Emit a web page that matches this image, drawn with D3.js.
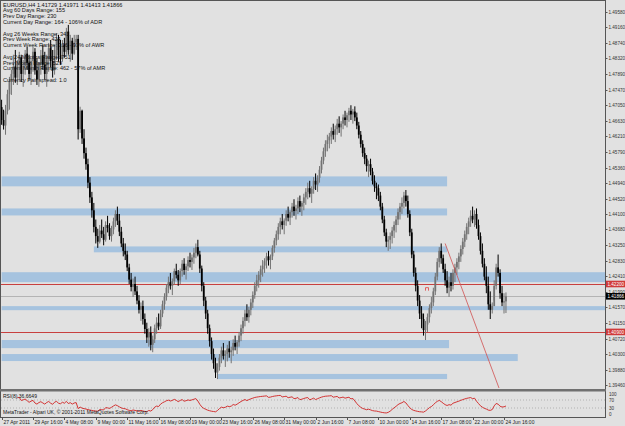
<!DOCTYPE html>
<html>
<head>
<meta charset="utf-8">
<script src="https://cdn.jsdelivr.net/npm/d3@7"></script>
<style>
  body { margin: 0; background: #e1e1e1; }
  svg { display: block; font-family: 'Liberation Sans', Arial, sans-serif; }
</style>
</head>
<body>
<div class="canvas"></div>
<script>
// 4H bars, open = previous close
const highs = [
  1.4720, 1.4693, 1.4706, 1.4747, 1.4782, 1.4801, 1.4842, 1.4855, 1.4828, 1.4850,
  1.4842, 1.4828, 1.4855, 1.4863, 1.4842, 1.4833, 1.4863, 1.4860, 1.4833, 1.4822,
  1.4855, 1.4869, 1.4850, 1.4842, 1.4874, 1.4882, 1.4855, 1.4869, 1.4901, 1.4896,
  1.4882, 1.4882, 1.4888, 1.4915, 1.4923, 1.4896, 1.4888, 1.4896, 1.4896, 1.4896,
  1.4701, 1.4693, 1.4640, 1.4590, 1.4560, 1.4510, 1.4470, 1.4440, 1.4395, 1.4370,
  1.4380, 1.4395, 1.4375, 1.4390, 1.4405, 1.4385, 1.4378, 1.4400, 1.4420, 1.4430,
  1.4410, 1.4375, 1.4345, 1.4330, 1.4310, 1.4275, 1.4250, 1.4235, 1.4240, 1.4215,
  1.4190, 1.4170, 1.4175, 1.4140, 1.4115, 1.4100, 1.4105, 1.4080, 1.4110, 1.4130,
  1.4140, 1.4150, 1.4175, 1.4195, 1.4220, 1.4240, 1.4250, 1.4235, 1.4262, 1.4275,
  1.4258, 1.4262, 1.4285, 1.4290, 1.4275, 1.4295, 1.4305, 1.4300, 1.4318, 1.4330,
  1.4340, 1.4310, 1.4270, 1.4225, 1.4185, 1.4150, 1.4110, 1.4075, 1.4045, 1.4020,
  1.4005, 1.4030, 1.4050, 1.4060, 1.4040, 1.4055, 1.4065, 1.4050, 1.4070, 1.4080,
  1.4068, 1.4090, 1.4110, 1.4130, 1.4150, 1.4165, 1.4158, 1.4180, 1.4200, 1.4225,
  1.4245, 1.4255, 1.4270, 1.4285, 1.4290, 1.4305, 1.4310, 1.4300, 1.4325, 1.4345,
  1.4365, 1.4385, 1.4400, 1.4410, 1.4398, 1.4420, 1.4430, 1.4420, 1.4440, 1.4450,
  1.4435, 1.4455, 1.4460, 1.4445, 1.4465, 1.4480, 1.4495, 1.4500, 1.4485, 1.4510,
  1.4520, 1.4515, 1.4540, 1.4565, 1.4590, 1.4610, 1.4625, 1.4630, 1.4645, 1.4655,
  1.4650, 1.4668, 1.4675, 1.4662, 1.4680, 1.4690, 1.4685, 1.4698, 1.4705, 1.4695,
  1.4702, 1.4685, 1.4660, 1.4635, 1.4610, 1.4590, 1.4570, 1.4555, 1.4560, 1.4535,
  1.4515, 1.4495, 1.4490, 1.4470, 1.4440, 1.4405, 1.4370, 1.4350, 1.4360, 1.4375,
  1.4390, 1.4405, 1.4425, 1.4440, 1.4455, 1.4470, 1.4475, 1.4460, 1.4420, 1.4370,
  1.4310, 1.4265, 1.4230, 1.4190, 1.4160, 1.4140, 1.4120, 1.4140, 1.4165, 1.4185,
  1.4210, 1.4250, 1.4290, 1.4320, 1.4330, 1.4300, 1.4275, 1.4255, 1.4240, 1.4250,
  1.4260, 1.4275, 1.4290, 1.4305, 1.4325, 1.4345, 1.4365, 1.4385, 1.4400, 1.4420,
  1.4430, 1.4420, 1.4425, 1.4395, 1.4360, 1.4330, 1.4290, 1.4268, 1.4240, 1.4200,
  1.4170, 1.4230, 1.4275, 1.4300, 1.4260, 1.4215, 1.4195, 1.41971
];
const lows = [
  1.4652, 1.4639, 1.4625, 1.4680, 1.4693, 1.4733, 1.4760, 1.4766, 1.4760, 1.4774,
  1.4768, 1.4755, 1.4788, 1.4801, 1.4774, 1.4760, 1.4796, 1.4788, 1.4760, 1.4755,
  1.4788, 1.4801, 1.4774, 1.4755, 1.4796, 1.4807, 1.4780, 1.4788, 1.4828, 1.4823,
  1.4815, 1.4823, 1.4834, 1.4842, 1.4842, 1.4823, 1.4828, 1.4842, 1.4855, 1.4612,
  1.4630, 1.4600, 1.4560, 1.4530, 1.4480, 1.4440, 1.4400, 1.4360, 1.4330, 1.4318,
  1.4330, 1.4345, 1.4325, 1.4335, 1.4360, 1.4340, 1.4335, 1.4355, 1.4375, 1.4380,
  1.4350, 1.4320, 1.4295, 1.4285, 1.4255, 1.4220, 1.4200, 1.4185, 1.4190, 1.4165,
  1.4140, 1.4120, 1.4110, 1.4085, 1.4060, 1.4050, 1.4040, 1.4035, 1.4060, 1.4085,
  1.4095, 1.4098, 1.4130, 1.4150, 1.4175, 1.4195, 1.4205, 1.4190, 1.4218, 1.4235,
  1.4215, 1.4220, 1.4240, 1.4245, 1.4232, 1.4255, 1.4265, 1.4258, 1.4275, 1.4290,
  1.4295, 1.4250, 1.4200, 1.4160, 1.4125, 1.4085, 1.4050, 1.4015, 1.3990, 1.3965,
  1.3962, 1.3985, 1.4005, 1.4015, 1.3995, 1.4010, 1.4020, 1.4005, 1.4025, 1.4040,
  1.4030, 1.4050, 1.4065, 1.4085, 1.4105, 1.4120, 1.4115, 1.4135, 1.4155, 1.4180,
  1.4200, 1.4210, 1.4225, 1.4240, 1.4250, 1.4262, 1.4270, 1.4260, 1.4285, 1.4305,
  1.4325, 1.4340, 1.4355, 1.4368, 1.4355, 1.4378, 1.4390, 1.4380, 1.4400, 1.4405,
  1.4395, 1.4410, 1.4415, 1.4405, 1.4420, 1.4435, 1.4450, 1.4455, 1.4440, 1.4465,
  1.4475, 1.4470, 1.4495, 1.4520, 1.4545, 1.4565, 1.4580, 1.4588, 1.4600, 1.4612,
  1.4605, 1.4625, 1.4630, 1.4620, 1.4640, 1.4650, 1.4645, 1.4660, 1.4665, 1.4655,
  1.4662, 1.4640, 1.4615, 1.4590, 1.4565, 1.4545, 1.4525, 1.4510, 1.4515, 1.4490,
  1.4470, 1.4450, 1.4445, 1.4420, 1.4385, 1.4350, 1.4320, 1.4310, 1.4315, 1.4330,
  1.4345, 1.4360, 1.4380, 1.4395, 1.4410, 1.4425, 1.4430, 1.4400, 1.4350, 1.4290,
  1.4240, 1.4200, 1.4160, 1.4125, 1.4100, 1.4080, 1.4068, 1.4090, 1.4115, 1.4140,
  1.4160, 1.4190, 1.4230, 1.4265, 1.4275, 1.4250, 1.4215, 1.4195, 1.4185, 1.4200,
  1.4205, 1.4225, 1.4245, 1.4260, 1.4280, 1.4300, 1.4320, 1.4340, 1.4355, 1.4375,
  1.4385, 1.4375, 1.4370, 1.4340, 1.4300, 1.4265, 1.4230, 1.4195, 1.4150, 1.4125,
  1.4140, 1.4175, 1.4205, 1.4240, 1.4180, 1.4160, 1.4140, 1.41413
];
const closes = [
  1.4665, 1.4650, 1.4690, 1.4735, 1.4770, 1.4790, 1.4810, 1.4780, 1.4815, 1.4835,
  1.4790, 1.4812, 1.4845, 1.4820, 1.4790, 1.4825, 1.4850, 1.4800, 1.4775, 1.4815,
  1.4840, 1.4815, 1.4790, 1.4830, 1.4860, 1.4825, 1.4800, 1.4855, 1.4885, 1.4840,
  1.4830, 1.4870, 1.4850, 1.4905, 1.4855, 1.4880, 1.4845, 1.4875, 1.4885, 1.4640,
  1.4690, 1.4615, 1.4575, 1.4545, 1.4495, 1.4455, 1.4420, 1.4375, 1.4350, 1.4335,
  1.4365, 1.4355, 1.4340, 1.4380, 1.4372, 1.4350, 1.4368, 1.4390, 1.4410, 1.4392,
  1.4362, 1.4330, 1.4310, 1.4300, 1.4265, 1.4232, 1.4212, 1.4220, 1.4200, 1.4175,
  1.4150, 1.4160, 1.4125, 1.4098, 1.4075, 1.4088, 1.4055, 1.4070, 1.4100, 1.4115,
  1.4105, 1.4140, 1.4165, 1.4185, 1.4210, 1.4225, 1.4215, 1.4228, 1.4255, 1.4245,
  1.4230, 1.4255, 1.4275, 1.4258, 1.4268, 1.4285, 1.4280, 1.4292, 1.4305, 1.4320,
  1.4300, 1.4262, 1.4215, 1.4175, 1.4140, 1.4100, 1.4065, 1.4030, 1.4005, 1.3980,
  1.3995, 1.4020, 1.4040, 1.4025, 1.4030, 1.4045, 1.4035, 1.4040, 1.4060, 1.4050,
  1.4062, 1.4080, 1.4100, 1.4120, 1.4140, 1.4130, 1.4150, 1.4170, 1.4190, 1.4215,
  1.4230, 1.4245, 1.4260, 1.4270, 1.4282, 1.4295, 1.4285, 1.4295, 1.4318, 1.4338,
  1.4355, 1.4375, 1.4390, 1.4380, 1.4392, 1.4410, 1.4400, 1.4415, 1.4430, 1.4418,
  1.4425, 1.4445, 1.4430, 1.4440, 1.4455, 1.4470, 1.4480, 1.4465, 1.4478, 1.4500,
  1.4490, 1.4508, 1.4530, 1.4555, 1.4580, 1.4600, 1.4610, 1.4620, 1.4635, 1.4625,
  1.4640, 1.4655, 1.4645, 1.4655, 1.4672, 1.4665, 1.4678, 1.4690, 1.4680, 1.4688,
  1.4672, 1.4650, 1.4625, 1.4600, 1.4575, 1.4560, 1.4540, 1.4545, 1.4525, 1.4500,
  1.4485, 1.4480, 1.4460, 1.4430, 1.4395, 1.4360, 1.4335, 1.4340, 1.4350, 1.4365,
  1.4380, 1.4395, 1.4415, 1.4430, 1.4440, 1.4460, 1.4445, 1.4410, 1.4360, 1.4300,
  1.4250, 1.4215, 1.4175, 1.4140, 1.4125, 1.4095, 1.4110, 1.4130, 1.4155, 1.4170,
  1.4200, 1.4240, 1.4280, 1.4310, 1.4290, 1.4260, 1.4230, 1.4210, 1.4225, 1.4215,
  1.4250, 1.4265, 1.4280, 1.4295, 1.4315, 1.4335, 1.4355, 1.4375, 1.4390, 1.4405,
  1.4395, 1.4410, 1.4380, 1.4350, 1.4310, 1.4275, 1.4240, 1.4215, 1.4165, 1.4150,
  1.4160, 1.4215, 1.4265, 1.4250, 1.4195, 1.4170, 1.4173, 1.41866
];
const firstOpen = 1.4700;
const lastOpen = 1.41729;

const priceTicks = [
  '1.49580', '1.49160', '1.48740', '1.48320', '1.47890', '1.47470', '1.47050',
  '1.46630', '1.46210', '1.45790', '1.45360', '1.44940', '1.44520', '1.44100',
  '1.43680', '1.43250', '1.42830', '1.42410', '1.41990', '1.41570', '1.41150',
  '1.40720', '1.40300', '1.39880', '1.39460'
];
const timeLabels = [
  '27 Apr 2011', '29 Apr 16:00', '4 May 08:00', '9 May 00:00', '11 May 16:00',
  '16 May 08:00', '19 May 00:00', '23 May 16:00', '26 May 08:00', '31 May 00:00',
  '2 Jun 16:00', '7 Jun 08:00', '10 Jun 00:00', '14 Jun 16:00', '17 Jun 08:00',
  '22 Jun 00:00', '24 Jun 16:00'
];
const barsPerLabel = 16;

// support / resistance zones: [top, bottom, fromBar, toBar]
const zones = [
  [1.4512, 1.4485, 0, 227],
  [1.4425, 1.4406, 0, 227],
  [1.4322, 1.4306, 47, 227],
  [1.4252, 1.4225, 0, 310],
  [1.4160, 1.4149, 0, 310],
  [1.4068, 1.4046, 0, 228],
  [1.4030, 1.4011, 0, 263],
  [1.3976, 1.3962, 110, 227]
];
const redLevels = [1.4220, 1.4090];
const redLabels = ['1.42200', '1.40900'];
const bidPrice = 1.41866;
const trendLine = [[226, 1.4330], [254, 1.3930]];

const rsiPeriod = 8;
const rsiLevels = [70, 30];
const rsiTicks = ['100', '70', '30', '0'];

const infoLines = [
  'EURUSD,H4  1.41729 1.41971 1.41413 1.41866',
  'Avg 60 Days Range: 155',
  'Prev Day Range: 230',
  'Current Day Range: 164 - 106% of ADR',
  '',
  'Avg 26 Weeks Range: 341',
  'Prev Week Range: 424',
  'Current Week Range: 316 - 93% of AWR',
  '',
  'Avg 24 Months Range: 751',
  'Prev Month Range: 529',
  'Current Month Range: 462 - 57% of AMR',
  '',
  'Currency Pair spread: 1.0'
];

const dims = { width: 625, height: 426, left: 1, right: 605, top: 1, bottom: 388 };
const rsiBox = { top: 392, bottom: 417 };
const upColor = '#737373';
const downColor = '#000';

const svg = d3
  .select('.canvas')
  .append('svg')
  .attr('width', dims.width)
  .attr('height', dims.height);

svg.append('rect').attr('width', dims.width).attr('height', dims.height).attr('fill', '#e1e1e1');

const x = d3.scaleLinear().domain([0, 256]).range([1.6, 504]);
const y = d3.scaleLinear().domain([1.3946, 1.4958]).range([385, 12]);
const yRsi = d3.scaleLinear().domain([0, 100]).range([414, 394]);

svg.append('clipPath').attr('id', 'main-clip')
  .append('rect')
  .attr('x', dims.left).attr('y', dims.top)
  .attr('width', dims.right - dims.left).attr('height', dims.bottom - dims.top);

const main = svg.append('g').attr('clip-path', 'url(#main-clip)');

// zones
main.selectAll('.zone')
  .data(zones)
  .enter()
  .append('rect')
  .attr('class', 'zone')
  .attr('x', (d) => Math.max(dims.left, x(d[2])))
  .attr('width', (d) => Math.min(dims.right, x(d[3])) - Math.max(dims.left, x(d[2])))
  .attr('y', (d) => y(d[0]))
  .attr('height', (d) => y(d[1]) - y(d[0]))
  .attr('fill', '#a6c3df');

main.selectAll('.red-level')
  .data(redLevels)
  .enter()
  .append('line')
  .attr('x1', dims.left).attr('x2', dims.right)
  .attr('y1', (d) => Math.round(y(d)) + 0.5).attr('y2', (d) => Math.round(y(d)) + 0.5)
  .attr('stroke', '#c8403f')
  .attr('stroke-width', 1.2);

main.append('line')
  .attr('x1', dims.left).attr('x2', dims.right)
  .attr('y1', Math.round(y(bidPrice)) + 0.5).attr('y2', Math.round(y(bidPrice)) + 0.5)
  .attr('stroke', '#b4b4b4');

// bars
const bars = closes.map((c, i) => ({
  i,
  o: i === 0 ? firstOpen : i === closes.length - 1 ? lastOpen : closes[i - 1],
  h: highs[i],
  l: lows[i],
  c
}));

const barG = main.selectAll('.bar')
  .data(bars)
  .enter()
  .append('g')
  .attr('class', 'bar');

barG.append('line')
  .attr('x1', (d) => x(d.i)).attr('x2', (d) => x(d.i))
  .attr('y1', (d) => y(d.h)).attr('y2', (d) => y(d.l))
  .attr('stroke', (d) => (d.c >= d.o ? upColor : downColor))
  .attr('stroke-width', 1);

barG.append('rect')
  .attr('x', (d) => x(d.i) - 0.9)
  .attr('width', 1.8)
  .attr('y', (d) => y(Math.max(d.o, d.c)))
  .attr('height', (d) => Math.max(0.8, Math.abs(y(d.o) - y(d.c))))
  .attr('fill', (d) => (d.c >= d.o ? upColor : downColor));

main.append('line')
  .attr('x1', x(trendLine[0][0])).attr('y1', y(trendLine[0][1]))
  .attr('x2', x(trendLine[1][0])).attr('y2', y(trendLine[1][1]))
  .attr('stroke', '#d05050')
  .attr('stroke-width', 0.8);

// small red marker
main.append('path')
  .attr('d', `M${x(216)},${y(1.4202)} v-3 h3 v3`)
  .attr('fill', 'none')
  .attr('stroke', '#e05050')
  .attr('stroke-width', 0.9);

// info text
svg.append('g')
  .selectAll('text')
  .data(infoLines)
  .enter()
  .append('text')
  .attr('x', 3)
  .attr('y', (d, i) => 6.5 + i * 5.8)
  .attr('font-size', 5.6)
  .attr('fill', '#111')
  .text((d) => d);

// frames
svg.append('line').attr('x1', 0.5).attr('x2', 0.5).attr('y1', 0).attr('y2', rsiBox.bottom).attr('stroke', '#555');
svg.append('line').attr('x1', 0).attr('x2', dims.right).attr('y1', 0.5).attr('y2', 0.5).attr('stroke', '#555');
svg.append('line').attr('x1', dims.right + 0.5).attr('x2', dims.right + 0.5).attr('y1', 0).attr('y2', rsiBox.bottom).attr('stroke', '#555');
svg.append('rect').attr('x', 0).attr('y', 389).attr('width', dims.right + 1).attr('height', 2.5).attr('fill', '#707070');
svg.append('line').attr('x1', 0).attr('x2', dims.right + 1).attr('y1', rsiBox.bottom + 0.5).attr('y2', rsiBox.bottom + 0.5).attr('stroke', '#555');

// price axis
const labelFit = (sel) => sel.attr('textLength', 16.5).attr('lengthAdjust', 'spacingAndGlyphs');
const axisG = svg.append('g').attr('font-size', 4.8).attr('fill', '#333');
axisG.selectAll('.ptick')
  .data(priceTicks)
  .enter()
  .append('g')
  .each(function (d) {
    const g = d3.select(this);
    const yy = Math.round(y(+d)) + 0.5;
    g.append('line').attr('x1', dims.right).attr('x2', dims.right + 2.5).attr('y1', yy).attr('y2', yy).attr('stroke', '#555');
    g.append('text').attr('x', dims.right + 3.5).attr('y', yy + 1.7).text(d).call(labelFit);
  });

const tagData = redLevels.map((v, i) => ({ v, label: redLabels[i], fill: '#d03a3a' }))
  .concat([{ v: bidPrice, label: bidPrice.toFixed(5), fill: '#000' }]);
axisG.selectAll('.tag')
  .data(tagData)
  .enter()
  .append('g')
  .each(function (d) {
    const g = d3.select(this);
    const yy = y(d.v);
    g.append('rect').attr('x', dims.right + 1).attr('y', yy - 3.3).attr('width', 19).attr('height', 6.6).attr('fill', d.fill);
    g.append('text').attr('x', dims.right + 2.5).attr('y', yy + 1.7).attr('fill', '#fff').text(d.label).call(labelFit);
  });

// rsi
const gains = closes.map((c, i) => (i === 0 ? 0 : Math.max(0, c - closes[i - 1])));
const losses = closes.map((c, i) => (i === 0 ? 0 : Math.max(0, closes[i - 1] - c)));
const rsi = [];
let avgG = 0;
let avgL = 0;
closes.forEach((c, i) => {
  if (i === 0) return;
  if (i <= rsiPeriod) {
    avgG += gains[i] / rsiPeriod;
    avgL += losses[i] / rsiPeriod;
  } else {
    avgG = (avgG * (rsiPeriod - 1) + gains[i]) / rsiPeriod;
    avgL = (avgL * (rsiPeriod - 1) + losses[i]) / rsiPeriod;
  }
  if (i >= rsiPeriod) rsi.push({ i, v: avgL === 0 ? 100 : 100 - 100 / (1 + avgG / avgL) });
});

svg.selectAll('.rsi-level')
  .data(rsiLevels)
  .enter()
  .append('line')
  .attr('x1', dims.left).attr('x2', dims.right)
  .attr('y1', (d) => yRsi(d)).attr('y2', (d) => yRsi(d))
  .attr('stroke', '#909090')
  .attr('stroke-width', 0.6)
  .attr('stroke-dasharray', '1,2');

svg.append('path')
  .datum(rsi)
  .attr('d', d3.line().x((d) => x(d.i)).y((d) => yRsi(d.v)))
  .attr('fill', 'none')
  .attr('stroke', '#d02020')
  .attr('stroke-width', 0.9);

svg.append('text').attr('x', 3).attr('y', 397.5).attr('font-size', 5).attr('fill', '#111').text('RSI(8) 36.6649');
svg.append('text').attr('x', 3).attr('y', 414).attr('font-size', 5).attr('fill', '#111')
  .text('MetaTrader - Alpari UK, \u00a9 2001-2011 MetaQuotes Software Corp.');

svg.selectAll('.rtick')
  .data(rsiTicks)
  .enter()
  .append('text')
  .attr('x', dims.right + 4)
  .attr('y', (d) => yRsi(+d) + 1.8)
  .attr('font-size', 4.6)
  .attr('fill', '#333')
  .text((d) => d);

// time axis
const timeG = svg.append('g');
timeLabels.forEach((t, k) => {
  const xx = Math.round(x(k * barsPerLabel)) + 0.5;
  timeG.append('line').attr('x1', xx).attr('x2', xx).attr('y1', rsiBox.bottom).attr('y2', rsiBox.bottom + 3).attr('stroke', '#555');
  timeG.append('text').attr('x', xx + 1).attr('y', 424).attr('font-size', 5).attr('fill', '#222').text(t);
});
</script>
</body>
</html>
